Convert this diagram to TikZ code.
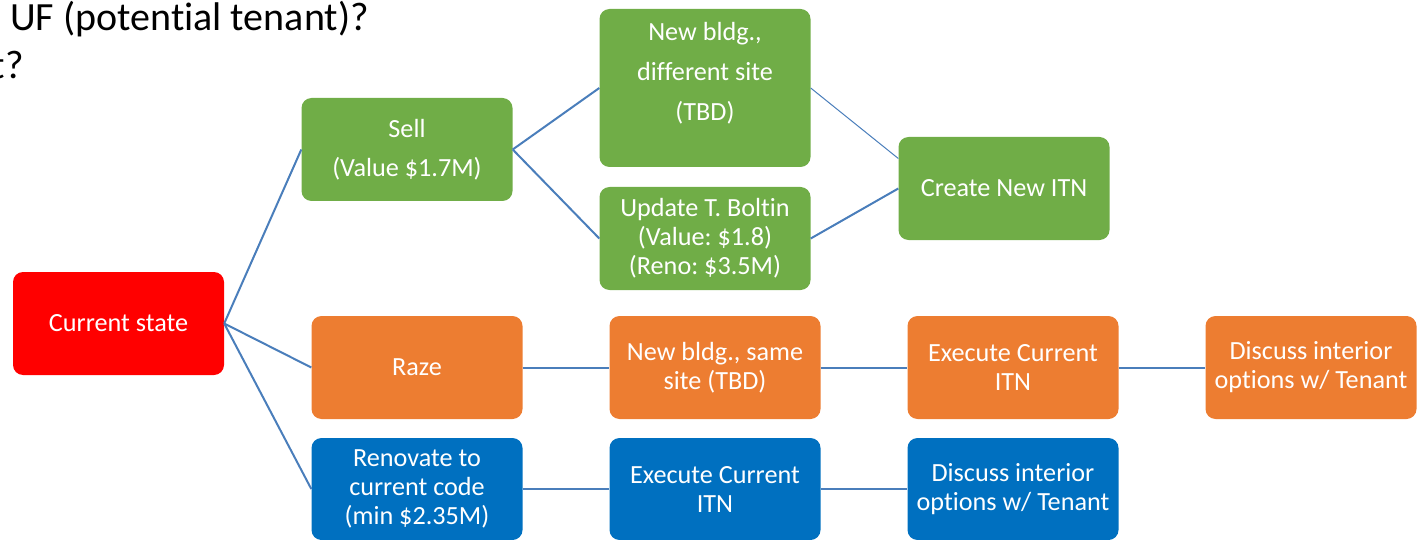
\documentclass[tikz,border=0pt]{standalone}
\usepackage{fontspec}
\setmainfont{Carlito}[Ligatures={NoCommon}]
\frenchspacing
\definecolor{cred}{HTML}{FF0000}
\definecolor{cgreen}{HTML}{70AD47}
\definecolor{corange}{HTML}{ED7D31}
\definecolor{cblue}{HTML}{0070C0}
\definecolor{cline}{HTML}{4A7EBB}
\newcommand{\boxfont}{\fontsize{26.2}{29}\selectfont}
\tikzset{
  box/.style={rectangle, rounded corners=10pt, minimum width=211pt, minimum height=103pt,
    inner sep=0pt, text=white, align=center, font=\boxfont},
  redbox/.style={box, fill=cred},
  greenbox/.style={box, fill=cgreen},
  orangebox/.style={box, fill=corange},
  bluebox/.style={box, fill=cblue},
  txt/.style={inner sep=0pt, text=white, align=center, font=\boxfont},
  conn/.style={draw=cline, line width=2pt},
  thinconn/.style={draw=cline, line width=1pt},
  toptext/.style={inner sep=0pt, font=\fontsize{40}{48}\selectfont},
}
\begin{document}
\begin{tikzpicture}[x=1pt,y=-1pt]
\useasboundingbox (0,0) rectangle (1424,540);
\clip (0,0) rectangle (1424,540);
\node[toptext, anchor=base west] (q1) at (10,31) {UF (potential tenant)?};
\node[toptext, anchor=base east] (q2) at (24,79) {t?};

\node[redbox] (cs) at (118.5,323.5) {Current state};

\node[greenbox] (sell) at (407,149.5) {Sell\\[10pt](Value \$1.7M)};
\node[greenbox, minimum height=158pt] (nb) at (705,88) {};
\node[txt] (nbt) at (705,73.5) {New bldg.,\\[11pt]different site\\[11pt](TBD)};
\node[greenbox] (up) at (705,238.5) {Update T. Boltin\\(Value: \$1.8)\\(Reno: \$3.5M)};
\node[greenbox] (cr) at (1004,188.5) {Create New ITN};

\node[orangebox] (raze) at (417,367.5) {Raze};
\node[orangebox] (ns) at (715,367.5) {New bldg., same\\site (TBD)};
\node[orangebox] (exo) at (1013,367.5) {Execute Current\\ITN};
\node[orangebox] (dio) at (1311,367.5) {Discuss interior\\options w/ Tenant};

\node[bluebox, minimum height=102pt] (ren) at (417,489) {Renovate to\\current code\\(min \$2.35M)};
\node[bluebox, minimum height=102pt] (exb) at (715,489) {Execute Current\\ITN};
\node[bluebox, minimum height=102pt] (dib) at (1013,489) {Discuss interior\\options w/ Tenant};

\draw[conn] (cs.east) -- (sell.west);
\draw[conn] (cs.east) -- (raze.west);
\draw[conn] (cs.east) -- (ren.west);
\draw[conn] (sell.east) -- (nb.west);
\draw[conn] (sell.east) -- (up.west);
\draw[thinconn] (nb.east) -- ([yshift=30pt]cr.west);
\draw[conn] (up.east) -- (cr.west);
\draw[conn] (raze.east) -- (ns.west);
\draw[conn] (ns.east) -- (exo.west);
\draw[conn] (exo.east) -- (dio.west);
\draw[conn] (ren.east) -- (exb.west);
\draw[conn] (exb.east) -- (dib.west);
\end{tikzpicture}
\end{document}
